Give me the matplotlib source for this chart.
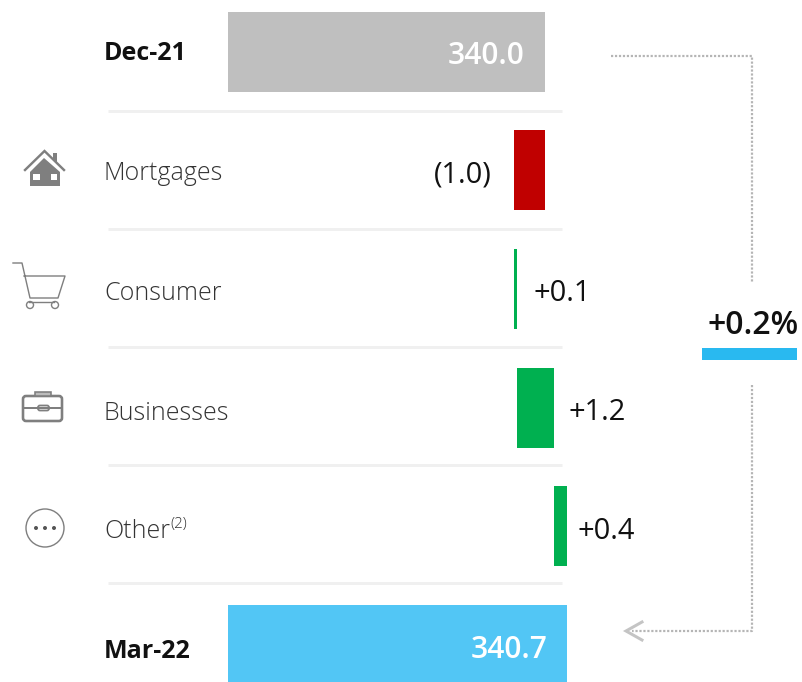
import matplotlib
matplotlib.use("Agg")
import matplotlib.pyplot as plt
from matplotlib.patches import Polygon, Rectangle, Circle, FancyBboxPatch
from matplotlib.lines import Line2D

categories = ["Dec-21", "Mortgages", "Consumer", "Businesses", "Other", "Mar-22"]
start_value = 340.0
end_value = 340.7
deltas = [-1.0, 0.1, 1.2, 0.4]
delta_labels = ["(1.0)", "+0.1", "+1.2", "+0.4"]
total_labels = ["340.0", "340.7"]
change_label = "+0.2%"

W, H = 803, 682
FONT = "Open Sans"
plt.rcParams["font.family"] = [FONT, "DejaVu Sans"]
PX = 72 / 100  # points per pixel

fig = plt.figure(figsize=(W / 100, H / 100), dpi=100)
ax = fig.add_axes([0, 0, 1, 1])
scale = 31.0
ax.set_xlim(340 - 545 / scale, 340 + (W - 545) / scale)
y0, dy = 51.5, 118.7
ax.set_ylim((H - y0) / dy, -y0 / dy)
ax.axis("off")
base = 340 - 317 / scale
bar_h = 80 / dy

GREY, RED, GREEN, BLUE = "#bfbfbf", "#c00000", "#00b050", "#52c6f5"

ax.barh(0, start_value - base, left=base, height=bar_h, color=GREY, zorder=2)
ax.barh(5, end_value - base, left=base, height=bar_h, color=BLUE, zorder=2)
ax.annotate(total_labels[0], (start_value, 0), xytext=(-21 * PX, -5 * PX), textcoords="offset points",
            ha="right", va="center", color="white", fontsize=30 * PX, fontweight="semibold")
ax.annotate(total_labels[1], (end_value, 5), xytext=(-19 * PX, -5 * PX), textcoords="offset points",
            ha="right", va="center", color="white", fontsize=30 * PX, fontweight="semibold")

running = start_value
gaps = [22, 16, 14, 11]
for i, (d, lab, g) in enumerate(zip(deltas, delta_labels, gaps), start=1):
    left = min(running, running + d)
    ax.barh(i, abs(d), left=left, height=bar_h, color=RED if d < 0 else GREEN, zorder=2)
    if d < 0:
        ax.annotate(lab, (left, i), xytext=(-g * PX, -5 * PX), textcoords="offset points",
                    ha="right", va="center", color="#111111", fontsize=29 * PX)
    else:
        ax.annotate(lab, (left + abs(d), i), xytext=(g * PX, -5 * PX), textcoords="offset points",
                    ha="left", va="center", color="#111111", fontsize=29 * PX)
    running += d

# Pixel overlay for labels, separators, icons and connector
ov = fig.add_axes([0, 0, 1, 1])
ov.set_xlim(0, W)
ov.set_ylim(H, 0)
ov.axis("off")
ov.patch.set_alpha(0)

for c, y, bold in zip(categories, [53, 173, 293, 413, 532, 651], [1, 0, 0, 0, 0, 1]):
    ov.text(104, y, c, ha="left", va="center", fontsize=(25 if bold else 25) * PX,
            color="#111111" if bold else "#333333", fontweight="bold" if bold else "light")
ov.text(170, 525, "(2)", ha="left", va="center", fontsize=15 * PX, color="#333333", fontweight="light")

for y in [111, 229, 347, 465, 583]:
    ov.add_line(Line2D([108, 562], [y, y], color="#f0f0f0", lw=3 * PX, solid_capstyle="butt"))

dot = dict(color="#b5b5b5", lw=2.2 * PX, ls=(0, (1, 0.8)))
ov.add_line(Line2D([611, 752, 752], [56, 56, 283], **dot))
ov.add_line(Line2D([752, 752, 632], [385, 631, 631], **dot))
ov.add_line(Line2D([642, 626, 642], [622, 631, 640], color="#c4c4c4", lw=3 * PX, solid_joinstyle="miter"))

ov.text(753.5, 325, change_label, ha="center", va="center", fontsize=32 * PX, fontweight="semibold", color="#111111")
ov.add_patch(Rectangle((702, 348), 95, 12, color="#29b9f0", lw=0))

IC = "#7f7f7f"
# house
ov.add_patch(Polygon([[30, 186], [30, 172], [44, 158], [60, 172], [60, 186]], closed=True, color=IC, lw=0))
ov.add_line(Line2D([25, 44.5, 64], [170, 151, 170], color=IC, lw=2.4 * PX, solid_joinstyle="miter"))
ov.add_patch(Polygon([[53, 153], [57, 153], [57, 163], [53, 160]], closed=True, color=IC, lw=0))
ov.add_patch(Rectangle((33, 174), 7, 6, color="white", lw=0))
ov.add_patch(Rectangle((51, 174), 6, 6, color="white", lw=0))
# cart
ov.add_line(Line2D([13, 22, 30, 58, 65, 24], [263, 263, 298, 298, 276, 276], color=IC, lw=1.4 * PX))
ov.add_line(Line2D([29, 54], [302, 302], color=IC, lw=1.4 * PX))
ov.add_patch(Circle((30, 305), 3.5, fc="white", ec=IC, lw=1.4 * PX))
ov.add_patch(Circle((55, 305), 3.5, fc="white", ec=IC, lw=1.4 * PX))
# briefcase
ov.add_patch(FancyBboxPatch((23, 396), 39, 25, boxstyle="round,pad=0,rounding_size=3", fc="white", ec=IC, lw=2.6 * PX))
ov.add_patch(Rectangle((35, 392), 16, 4, fc="#bbbbbb", ec=IC, lw=1.6 * PX))
ov.add_line(Line2D([23, 62], [408, 408], color=IC, lw=2 * PX))
ov.add_patch(FancyBboxPatch((38, 405.5), 11, 5, boxstyle="round,pad=0,rounding_size=2", fc="white", ec=IC, lw=1.8 * PX))
# other
ov.add_patch(Circle((45, 528), 19, fc="white", ec=IC, lw=1.4 * PX))
for x in [36, 45, 54]:
    ov.add_patch(Circle((x, 528), 2, color="#555555", lw=0))

fig.savefig("out.png", dpi=100)
